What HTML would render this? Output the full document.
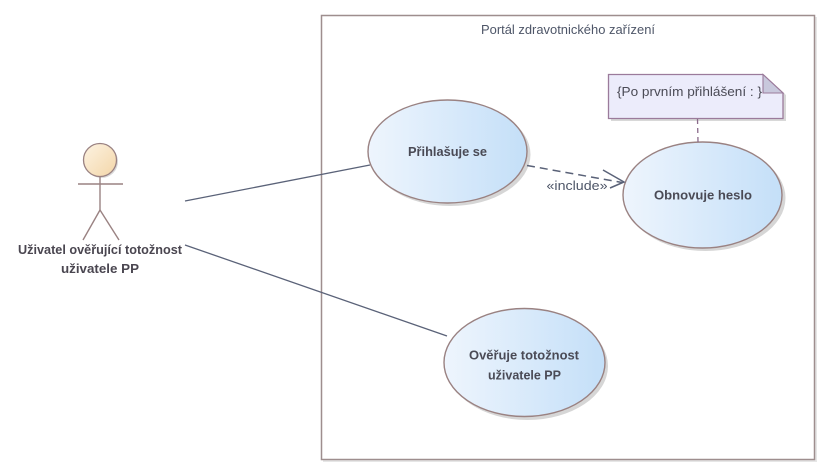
<!DOCTYPE html>
<html>
<head>
<meta charset="utf-8">
<style>
  html, body { margin: 0; padding: 0; background: #ffffff; }
  svg { display: block; }
  text { font-family: "Liberation Sans", "DejaVu Sans", sans-serif; }
</style>
</head>
<body>
<svg width="831" height="475" viewBox="0 0 831 475" xmlns="http://www.w3.org/2000/svg">
  <defs>
    <linearGradient id="uc" x1="0" y1="0" x2="1" y2="0">
      <stop offset="0" stop-color="#eef5fd"/>
      <stop offset="1" stop-color="#c4dff8"/>
    </linearGradient>
    <linearGradient id="head" x1="0" y1="0" x2="1" y2="1">
      <stop offset="0" stop-color="#fdf3e2"/>
      <stop offset="1" stop-color="#f3d6a8"/>
    </linearGradient>
  </defs>

  <!-- System boundary -->
  <rect x="323" y="17" width="494" height="445" fill="#e6e6e6"/>
  <rect x="321.5" y="15.5" width="493" height="444" fill="#ffffff" stroke="#9e8e8e" stroke-width="1.5"/>
  <text x="568" y="34" font-size="12.5" fill="#4e5668" text-anchor="middle" textLength="174" lengthAdjust="spacingAndGlyphs">Portál zdravotnického zařízení</text>

  <!-- Actor -->
  <circle cx="101.5" cy="161.5" r="16.5" fill="#d9d9d9"/>
  <circle cx="100" cy="160" r="16.5" fill="url(#head)" stroke="#9a8282" stroke-width="1.3"/>
  <line x1="78" y1="184" x2="123" y2="184" stroke="#9a8282" stroke-width="1.4"/>
  <line x1="100" y1="177" x2="100" y2="210" stroke="#9a8282" stroke-width="1.4"/>
  <line x1="100" y1="210" x2="83" y2="240" stroke="#9a8282" stroke-width="1.4"/>
  <line x1="100" y1="210" x2="119" y2="240" stroke="#9a8282" stroke-width="1.4"/>
  <text x="100" y="254" font-size="12.5" font-weight="bold" fill="#4a4650" text-anchor="middle" textLength="164" lengthAdjust="spacingAndGlyphs">Uživatel ověřující totožnost</text>
  <text x="100" y="273" font-size="12.5" font-weight="bold" fill="#4a4650" text-anchor="middle" textLength="78" lengthAdjust="spacingAndGlyphs">uživatele PP</text>

  <!-- Associations -->
  <line x1="185" y1="201" x2="370" y2="165" stroke="#5a6278" stroke-width="1.3"/>
  <line x1="185" y1="245" x2="447" y2="336" stroke="#5a6278" stroke-width="1.3"/>

  <!-- Use case: Přihlašuje se -->
  <ellipse cx="450.5" cy="154.5" rx="80" ry="51.5" fill="#d6d6d6"/>
  <ellipse cx="447.5" cy="151.5" rx="79.5" ry="51.5" fill="url(#uc)" stroke="#9a8282" stroke-width="1.4"/>
  <text x="447.5" y="156" font-size="12.5" font-weight="bold" fill="#4a4a55" text-anchor="middle" textLength="79" lengthAdjust="spacingAndGlyphs">Přihlašuje se</text>

  <!-- Use case: Obnovuje heslo -->
  <ellipse cx="705.5" cy="198" rx="80" ry="53" fill="#d6d6d6"/>
  <ellipse cx="702.5" cy="195" rx="79.5" ry="53" fill="url(#uc)" stroke="#9a8282" stroke-width="1.4"/>
  <text x="703" y="199.5" font-size="12.5" font-weight="bold" fill="#4a4a55" text-anchor="middle" textLength="98" lengthAdjust="spacingAndGlyphs">Obnovuje heslo</text>

  <!-- Use case: Ověřuje totožnost uživatele PP -->
  <ellipse cx="527.5" cy="366" rx="80.5" ry="54" fill="#d6d6d6"/>
  <ellipse cx="524.5" cy="362.5" rx="80.5" ry="54" fill="url(#uc)" stroke="#9a8282" stroke-width="1.4"/>
  <text x="524" y="359.5" font-size="12.5" font-weight="bold" fill="#4a4a55" text-anchor="middle" textLength="110" lengthAdjust="spacingAndGlyphs">Ověřuje totožnost</text>
  <text x="524.5" y="379.5" font-size="12.5" font-weight="bold" fill="#4a4a55" text-anchor="middle" textLength="73" lengthAdjust="spacingAndGlyphs">uživatele PP</text>

  <!-- Include dependency -->
  <line x1="527" y1="165.5" x2="622" y2="182.5" stroke="#5a6278" stroke-width="1.5" stroke-dasharray="8,5"/>
  <polyline points="603,170 624,182 610,188" fill="none" stroke="#5a6278" stroke-width="1.5"/>
  <text x="577" y="190" font-size="12.5" fill="#4e5668" text-anchor="middle" textLength="61" lengthAdjust="spacingAndGlyphs">«include»</text>

  <!-- Note -->
  <path d="M611,77 H766 L786,95 V121 H611 Z" fill="#d8d8d8"/>
  <path d="M608.5,74.5 H763 L783,93 V118.5 H608.5 Z" fill="#ececfb" stroke="#9b7b9b" stroke-width="1.3"/>
  <path d="M763,74.5 V93 H783 Z" fill="#c8c8dc" stroke="#9b7b9b" stroke-width="1.1"/>
  <text x="617" y="96" font-size="12.5" fill="#4a4a55" textLength="145" lengthAdjust="spacingAndGlyphs">{Po prvním přihlášení : }</text>
  <line x1="697.5" y1="119" x2="698" y2="142" stroke="#8a6a8a" stroke-width="1.3" stroke-dasharray="5,4"/>
</svg>
</body>
</html>
